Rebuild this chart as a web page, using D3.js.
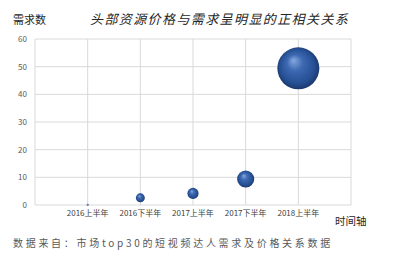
<!DOCTYPE html>
<meta charset="utf-8">
<script src="https://d3js.org/d3.v7.min.js"></script>
<style>
  body { margin: 0; background: #fff; }
  text { font-family: "Noto Sans CJK SC", "DejaVu Sans", sans-serif; }
</style>
<div id="chart"></div>
<script>
// data
var periods = ["2016上半年", "2016下半年", "2017上半年", "2017下半年", "2018上半年"];
var demand = [0.1, 2.6, 4.2, 9.4, 49.4];
var bubbleSize = [0.08, 2.6, 4.0, 9.5, 57];
var yTicks = [0, 10, 20, 30, 40, 50, 60];

var W = 417, H = 262;
var svg = d3.select("#chart").append("svg")
  .attr("width", W).attr("height", H);

// 3d-ish sphere look
var grad = svg.append("defs").append("radialGradient")
  .attr("id", "ball").attr("cx", "50%").attr("cy", "50%").attr("r", "55%")
  .attr("fx", "38%").attr("fy", "30%");
grad.append("stop").attr("offset", "0%").attr("stop-color", "#86a8e0");
grad.append("stop").attr("offset", "35%").attr("stop-color", "#3d69b2");
grad.append("stop").attr("offset", "75%").attr("stop-color", "#264f93");
grad.append("stop").attr("offset", "100%").attr("stop-color", "#16305f");

var x = d3.scaleLinear().domain([0, 6]).range([35, 351]);
var y = d3.scaleLinear().domain([0, 60]).range([205, 39]);
var r = d3.scaleSqrt().domain([0, 57]).range([0, 21]);

// grid
svg.append("g").selectAll("line.h").data(yTicks).enter().append("line")
  .attr("x1", 35).attr("x2", 351)
  .attr("y1", function(d) { return y(d); }).attr("y2", function(d) { return y(d); })
  .attr("stroke", "#d9d9d9").attr("stroke-width", 1);
svg.append("g").selectAll("line.v").data(d3.range(0, 7)).enter().append("line")
  .attr("y1", 39).attr("y2", 205)
  .attr("x1", function(d) { return x(d); }).attr("x2", function(d) { return x(d); })
  .attr("stroke", "#d9d9d9").attr("stroke-width", 1);

// y labels
svg.append("g").selectAll("text").data(yTicks).enter().append("text")
  .attr("x", 27).attr("y", function(d) { return y(d) + 3; })
  .attr("text-anchor", "end").attr("font-size", 8).attr("fill", "#595959")
  .text(function(d) { return d; });

// x labels
svg.append("g").selectAll("text").data(periods).enter().append("text")
  .attr("x", function(d, i) { return x(i + 1); }).attr("y", 216)
  .attr("text-anchor", "middle").attr("font-size", 8).attr("fill", "#404040")
  .text(function(d) { return d; });

// bubbles
svg.append("g").selectAll("circle").data(periods).enter().append("circle")
  .attr("cx", function(d, i) { return x(i + 1); })
  .attr("cy", function(d, i) { return y(demand[i]); })
  .attr("r", function(d, i) { return Math.max(1, r(bubbleSize[i])); })
  .attr("fill", "url(#ball)");

// titles
svg.append("text").attr("x", 13).attr("y", 24)
  .attr("font-size", 11).attr("fill", "#262626").text("需求数");
svg.append("text").attr("x", 90).attr("y", 24)
  .attr("font-size", 13).attr("font-style", "italic").attr("letter-spacing", 1.4)
  .attr("fill", "#262626")
  .text("头部资源价格与需求呈明显的正相关关系");
svg.append("text").attr("x", 335).attr("y", 225)
  .attr("font-size", 10.5).attr("fill", "#262626").text("时间轴");
svg.append("text").attr("x", 13).attr("y", 247)
  .attr("font-size", 10).attr("fill", "#595959").attr("letter-spacing", 2.7)
  .text("数据来自：市场top30的短视频达人需求及价格关系数据");
</script>
